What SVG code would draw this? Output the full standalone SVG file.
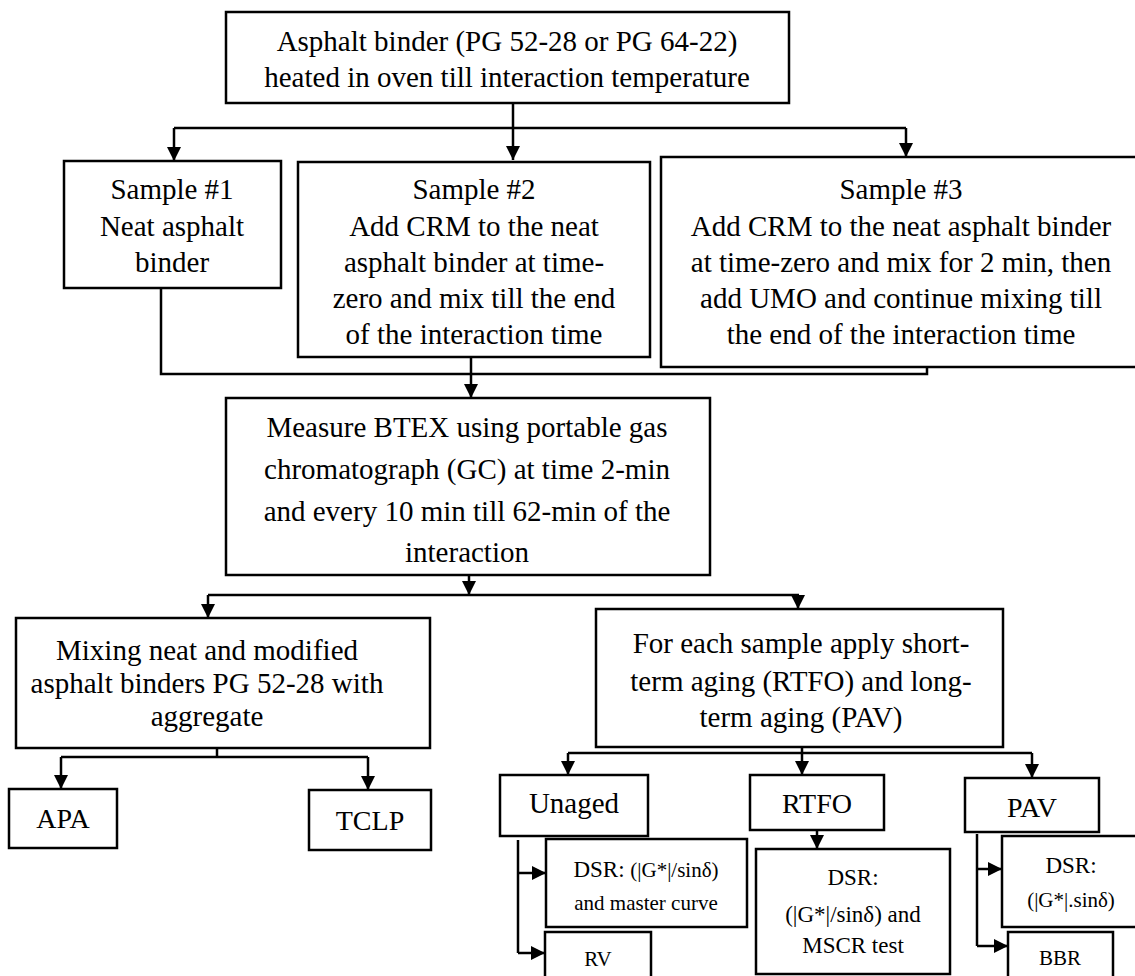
<svg xmlns="http://www.w3.org/2000/svg" width="1135" height="976" viewBox="0 0 1135 976">
<style>
.box{fill:#fff;stroke:#000;stroke-width:2.5}
.t{font-family:"Liberation Serif","Times New Roman",serif;font-size:29px;fill:#000;text-anchor:middle}
.m{font-size:28px}
.s{font-size:23px}
.xs{font-size:21px}
.c{fill:none;stroke:#000;stroke-width:2.5}
</style>
<defs>
<marker id="ah" viewBox="0 0 14 14" refX="14" refY="7" markerWidth="14" markerHeight="14" markerUnits="userSpaceOnUse" orient="auto">
<path d="M0,0 L14,7 L0,14 z" fill="#000"/>
</marker>
</defs>
<rect width="1135" height="976" fill="#fff"/>
<g id="connectors">
<path class="c" d="M513,103 V160" marker-end="url(#ah)"/>
<path class="c" d="M174,128 H906"/>
<path class="c" d="M174,128 V161" marker-end="url(#ah)"/>
<path class="c" d="M906,128 V157" marker-end="url(#ah)"/>
<path class="c" d="M161,288 V374 H927 V367"/>
<path class="c" d="M471,357 V398" marker-end="url(#ah)"/>
<path class="c" d="M469,575 V595" marker-end="url(#ah)"/>
<path class="c" d="M208,595 H799"/>
<path class="c" d="M208,595 V618" marker-end="url(#ah)"/>
<path class="c" d="M798,595 V609" marker-end="url(#ah)"/>
<path class="c" d="M217,748 V757"/>
<path class="c" d="M61,757 H368"/>
<path class="c" d="M61,757 V789" marker-end="url(#ah)"/>
<path class="c" d="M368,757 V790" marker-end="url(#ah)"/>
<path class="c" d="M802,747 V775" marker-end="url(#ah)"/>
<path class="c" d="M568,753 H1032"/>
<path class="c" d="M568,753 V775" marker-end="url(#ah)"/>
<path class="c" d="M1032,753 V778" marker-end="url(#ah)"/>
<path class="c" d="M817,830 V849" marker-end="url(#ah)"/>
<path class="c" d="M518,840 V953"/>
<path class="c" d="M518,873 H546" marker-end="url(#ah)"/>
<path class="c" d="M518,953 H545" marker-end="url(#ah)"/>
<path class="c" d="M977,834 V946"/>
<path class="c" d="M977,869 H1002" marker-end="url(#ah)"/>
<path class="c" d="M977,946 H1008" marker-end="url(#ah)"/>
</g>
<g id="top">
<rect class="box" x="226" y="12" width="563" height="91"/>
<text class="t" x="507" y="51">Asphalt binder (PG 52-28 or PG 64-22)</text>
<text class="t" x="507" y="87">heated in oven till interaction temperature</text>
</g>
<g id="sample1">
<rect class="box" x="64" y="161" width="217" height="127"/>
<text class="t" x="172" y="199">Sample #1</text>
<text class="t" x="172" y="236">Neat asphalt</text>
<text class="t" x="172" y="272">binder</text>
</g>
<g id="sample2">
<rect class="box" x="298" y="162" width="352" height="195"/>
<text class="t" x="474" y="199">Sample #2</text>
<text class="t" x="474" y="236">Add CRM to the neat</text>
<text class="t" x="474" y="272">asphalt binder at time-</text>
<text class="t" x="474" y="308">zero and mix till the end</text>
<text class="t" x="474" y="344">of the interaction time</text>
</g>
<g id="sample3">
<rect class="box" x="661" y="157" width="482" height="210"/>
<text class="t" x="901" y="199">Sample #3</text>
<text class="t" x="901" y="236">Add CRM to the neat asphalt binder</text>
<text class="t" x="901" y="272">at time-zero and mix for 2 min, then</text>
<text class="t" x="901" y="308">add UMO and continue mixing till</text>
<text class="t" x="901" y="344">the end of the interaction time</text>
</g>
<g id="measure">
<rect class="box" x="226" y="398" width="484" height="177"/>
<text class="t" x="467" y="437">Measure BTEX using portable gas</text>
<text class="t" x="467" y="479">chromatograph (GC) at time 2-min</text>
<text class="t" x="467" y="521">and every 10 min till 62-min of the</text>
<text class="t" x="467" y="562">interaction</text>
</g>
<g id="mixing">
<rect class="box" x="16" y="618" width="414" height="130"/>
<text class="t" x="207" y="660">Mixing neat and modified</text>
<text class="t" x="207" y="693">asphalt binders PG 52-28 with</text>
<text class="t" x="207" y="726">aggregate</text>
</g>
<g id="aging">
<rect class="box" x="596" y="609" width="407" height="138"/>
<text class="t" x="801" y="653">For each sample apply short-</text>
<text class="t" x="801" y="691">term aging (RTFO) and long-</text>
<text class="t" x="801" y="727">term aging (PAV)</text>
</g>
<g id="apa">
<rect class="box" x="9" y="789" width="108" height="59"/>
<text class="t m" x="63" y="828">APA</text>
</g>
<g id="tclp">
<rect class="box" x="309" y="790" width="122" height="60"/>
<text class="t m" x="370" y="830">TCLP</text>
</g>
<g id="unaged">
<rect class="box" x="500" y="775" width="148" height="61"/>
<text class="t" x="574" y="813">Unaged</text>
</g>
<g id="rtfo">
<rect class="box" x="750" y="775" width="134" height="55"/>
<text class="t m" x="817" y="813">RTFO</text>
</g>
<g id="pav">
<rect class="box" x="965" y="778" width="134" height="54"/>
<text class="t m" x="1032" y="817">PAV</text>
</g>
<g id="unaged-dsr">
<rect class="box" x="546" y="839" width="201" height="88"/>
<text class="t s" x="646" y="877">DSR: <tspan class="xs">(|G*|/sinδ)</tspan></text>
<text class="t xs" x="646" y="910">and master curve</text>
</g>
<g id="rv">
<rect class="box" x="545" y="932" width="106" height="50"/>
<text class="t xs" x="598" y="966">RV</text>
</g>
<g id="rtfo-dsr">
<rect class="box" x="756" y="849" width="194" height="125"/>
<text class="t s" x="853" y="885">DSR:</text>
<text class="t s" x="853" y="922">(|G*|/sinδ) and</text>
<text class="t s" x="853" y="953">MSCR test</text>
</g>
<g id="pav-dsr">
<rect class="box" x="1002" y="836" width="140" height="91"/>
<text class="t s" x="1071" y="873">DSR:</text>
<text class="t xs" x="1071" y="907">(|G*|.sinδ)</text>
</g>
<g id="bbr">
<rect class="box" x="1008" y="932" width="105" height="50"/>
<text class="t xs" x="1060" y="965">BBR</text>
</g>
</svg>
